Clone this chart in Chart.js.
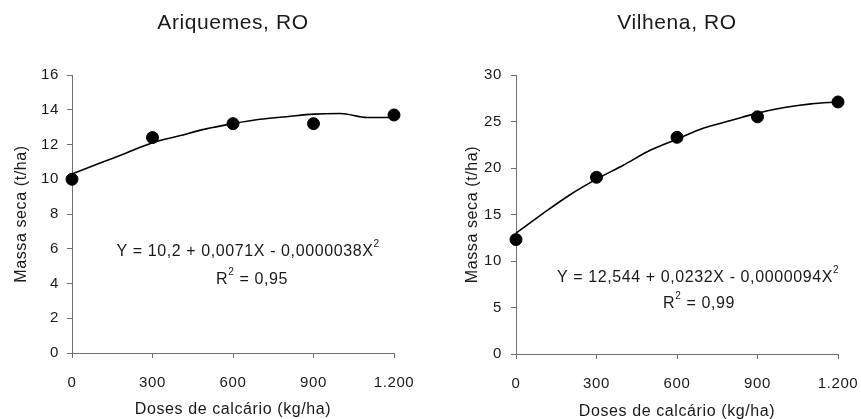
<!DOCTYPE html>
<html><head><meta charset="utf-8">
<script src="https://cdn.jsdelivr.net/npm/chart.js@4/dist/chart.umd.min.js"></script>
<style>
html,body{margin:0;padding:0;background:#fff;}
#wrap{position:relative;width:861px;height:419px;overflow:hidden;}
canvas{position:absolute;top:0;}
</style></head><body>
<div id="wrap">
<canvas id="c1" width="430" height="419" style="left:0px"></canvas>
<canvas id="c2" width="431" height="419" style="left:430px"></canvas>
</div>
<script>
// ---- data ----
const doses = [0, 300, 600, 900, 1200];
const doseTickLabels = ['0', '300', '600', '900', '1.200'];
const curveDoses = [0, 100, 200, 300, 400, 500, 600, 700, 800, 900, 1000, 1100, 1200];

const ariquemesObserved = [10.0, 12.4, 13.2, 13.2, 13.7];
const ariquemesCurve = [10.3, 10.9, 11.5, 12.1, 12.5, 12.9, 13.2, 13.45, 13.6, 13.75, 13.78, 13.55, 13.55];

const vilhenaObserved = [12.3, 19.0, 23.3, 25.5, 27.1];
const vilhenaCurve = [13.0, 15.1, 17.1, 18.8, 20.3, 21.9, 23.1, 24.3, 25.1, 25.9, 26.5, 26.9, 27.1];

const FONT = '"Liberation Sans", Arial, sans-serif';
const TXT = '#1a1a1a';
const AX = '#707070';

const spacingPlugin = {
  id: 'spacing',
  beforeLayout(chart) { chart.ctx.letterSpacing = '0.6px'; },
  beforeDraw(chart) { chart.ctx.letterSpacing = '0.6px'; }
};

const eqPlugin = {
  id: 'eqText',
  afterDraw(chart, args, opts) {
    const ctx = chart.ctx;
    ctx.save();
    ctx.fillStyle = TXT;
    ctx.textBaseline = 'middle';
    (opts.lines || []).forEach(line => {
      let total = 0;
      line.parts.forEach(p => {
        ctx.font = (p.sup ? '10px ' : '16px ') + FONT;
        p.w = ctx.measureText(p.t).width;
        total += p.w;
      });
      let x = line.cx - total / 2;
      line.parts.forEach(p => {
        ctx.font = (p.sup ? '10px ' : '16px ') + FONT;
        ctx.textAlign = 'left';
        ctx.fillText(p.t, x, p.sup ? line.cy - 8 : line.cy);
        x += p.w;
      });
    });
    ctx.restore();
  }
};

function makeChart(id, cfg) {
  const pts = (xs, ys) => xs.map((x, i) => ({x: x, y: ys[i]}));
  return new Chart(document.getElementById(id), {
    type: 'line',
    data: {
      datasets: [
        {
          type: 'line',
          data: pts(curveDoses, cfg.curve),
          borderColor: '#000',
          borderWidth: 1.6,
          pointRadius: 0,
          tension: 0.35,
          cubicInterpolationMode: 'monotone',
          clip: false,
          fill: false
        },
        {
          type: 'scatter',
          data: pts(doses, cfg.observed),
          showLine: false,
          pointRadius: 6,
          pointBackgroundColor: '#000',
          pointBorderColor: '#000',
          clip: false
        }
      ]
    },
    options: {
      responsive: false,
      animation: false,
      events: [],
      layout: {padding: {left: 0, right: cfg.padRight, top: 0, bottom: 0}},
      plugins: {
        legend: {display: false},
        tooltip: {enabled: false},
        title: {
          display: true,
          text: cfg.title,
          fullSize: false,
          color: TXT,
          font: {family: FONT, size: 21, weight: 'normal', lineHeight: 1.2},
          padding: {top: 11, bottom: 38.8}
        },
        eqText: {lines: cfg.eqLines}
      },
      scales: {
        x: {
          type: 'linear',
          min: 0, max: 1200,
          afterFit: s => { s.height = cfg.xAxisHeight; s.paddingLeft = 0; s.paddingRight = 0; },
          afterBuildTicks: s => { s.ticks = doses.map(v => ({value: v})); },
          ticks: {
            autoSkip: false, maxRotation: 0,
            color: TXT,
            font: {family: FONT, size: 15},
            padding: 16,
            callback: (v) => doseTickLabels[doses.indexOf(v)]
          },
          grid: {display: true, drawOnChartArea: false, drawTicks: true, tickLength: 5, color: AX},
          border: {display: true, color: AX, width: 1},
          title: {
            display: true, text: 'Doses de calcário (kg/ha)', color: TXT,
            font: {family: FONT, size: 16, lineHeight: 1.2},
            padding: {top: 0, bottom: cfg.xTitleBottom}
          }
        },
        y: {
          type: 'linear',
          min: 0, max: cfg.yMax,
          afterFit: s => { s.width = cfg.yAxisWidth; },
          ticks: {
            stepSize: cfg.yStep,
            color: TXT,
            font: {family: FONT, size: 15},
            padding: cfg.yTickPad
          },
          grid: {display: true, drawOnChartArea: false, drawTicks: true, tickLength: 5, color: AX},
          border: {display: true, color: AX, width: 1},
          title: {
            display: true, text: 'Massa seca (t/ha)', color: TXT,
            font: {family: FONT, size: 16, lineHeight: 1.2},
            padding: {top: cfg.yTitleTop, bottom: 0}
          }
        }
      }
    },
    plugins: [spacingPlugin, eqPlugin]
  });
}

makeChart('c1', {
  title: 'Ariquemes, RO',
  observed: ariquemesObserved,
  curve: ariquemesCurve,
  yMax: 16, yStep: 2,
  yAxisWidth: 72, padRight: 36, xAxisHeight: 66,
  yTickPad: 8, yTitleTop: 12, xTitleBottom: 0,
  eqLines: [
    {cx: 248, cy: 252, parts: [{t: 'Y = 10,2 + 0,0071X - 0,0000038X'}, {t: '2', sup: true}]},
    {cx: 252, cy: 280, parts: [{t: 'R'}, {t: '2', sup: true}, {t: ' = 0,95'}]}
  ]
});

makeChart('c2', {
  title: 'Vilhena, RO',
  observed: vilhenaObserved,
  curve: vilhenaCurve,
  yMax: 30, yStep: 5,
  yAxisWidth: 86, padRight: 23, xAxisHeight: 65,
  yTickPad: 9, yTitleTop: 33, xTitleBottom: -2,
  eqLines: [
    {cx: 268, cy: 278, parts: [{t: 'Y = 12,544 + 0,0232X - 0,0000094X'}, {t: '2', sup: true}]},
    {cx: 269, cy: 304, parts: [{t: 'R'}, {t: '2', sup: true}, {t: ' = 0,99'}]}
  ]
});
</script>
</body></html>
